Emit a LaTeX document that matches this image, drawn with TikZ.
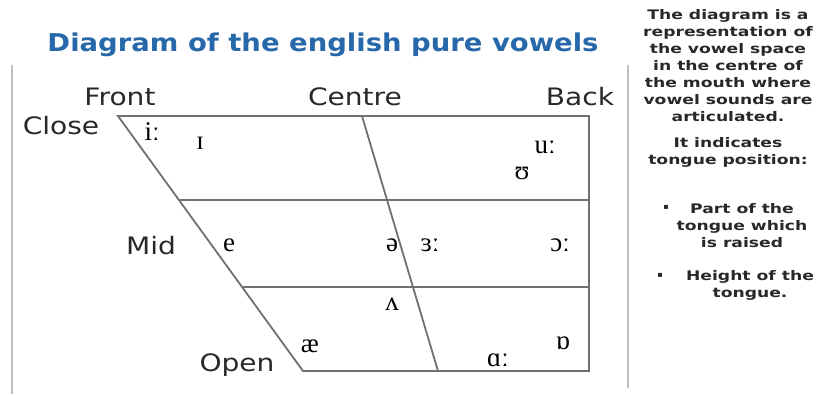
\documentclass[tikz,border=0pt]{standalone}
\usepackage{fontspec}
\setmainfont{DejaVu Sans}
\newfontfamily\ipa{Liberation Serif}
\newfontfamily\wide[FakeStretch=1.12]{DejaVu Sans}
\newfontfamily\lblfont[FakeStretch=1.17]{DejaVu Sans}
\newfontfamily\notefont[FakeStretch=1.3]{DejaVu Sans}
\usetikzlibrary{positioning}
\definecolor{ttl}{RGB}{38,104,170}
\definecolor{ln}{RGB}{112,112,112}
\definecolor{sep}{RGB}{190,190,190}
\definecolor{txt}{RGB}{40,40,40}

\begin{document}
\begin{tikzpicture}[x=1pt,y=-1pt,
 lbl/.style={font=\lblfont\fontsize{24}{24}\selectfont,text=txt,inner sep=0pt},
 v/.style={font=\ipa\fontsize{27}{27}\selectfont,inner sep=0pt},
 note/.style={align=center,text=txt,font=\notefont\bfseries\fontsize{13.2}{17}\selectfont,inner sep=0pt},
 bul/.style={text=txt,font=\fontsize{8}{8}\selectfont,inner sep=0pt}]
\useasboundingbox (0,0) rectangle (827,394);
% title and separators
\node[font=\wide\bfseries\fontsize{24.5}{24.5}\selectfont,text=ttl] (title) at (323,45) {Diagram of the english pure vowels};
\draw[sep,line width=2pt] (12,65) -- (12,394);
\draw[sep,line width=2pt] (628,65) -- (628,388);
% vowel space corners
\coordinate (tl) at (118,116);
\coordinate (tr) at (589,116);
\coordinate (br) at (589,371);
\coordinate (bl) at (303,371);
\coordinate (tc) at (362,116);
\coordinate (bc) at (438,371);
\coordinate (ml) at (180,200);
\coordinate (mr) at (589,200);
\coordinate (ol) at (243,287);
\coordinate (or) at (589,287);
\draw[ln,line width=1.8pt] (tl) -- (tr) -- (br) -- (bl) -- cycle;
\draw[ln,line width=1.8pt] (ml) -- (mr);
\draw[ln,line width=1.8pt] (ol) -- (or);
\draw[ln,line width=1.8pt] (tc) -- (bc);
% axis labels
\node[lbl] (front) at (120,97) {Front};
\node[lbl] (centre) at (355,97) {Centre};
\node[lbl] (back) at (580,97) {Back};
\node[lbl] (close) at (61,126) {Close};
\node[lbl] (mid) at (151,246) {Mid};
\node[lbl] (open) at (237,365) {Open};
% vowels
\node[v] (ii) at (152,132) {iː};
\node[v] (ih) at (200,143) {ɪ};
\node[v] (e) at (229,245) {e};
\node[v] (ae) at (310,346) {æ};
\node[v] (uu) at (545,147) {uː};
\node[v] (uh) at (522,173) {ʊ};
\node[v] (schwa) at (392,245) {ə};
\node[v] (er) at (430,245) {ɜː};
\node[v] (aw) at (560,245) {ɔː};
\node[v] (uhh) at (392,304) {ʌ};
\node[v] (aa) at (498,360) {ɑː};
\node[v] (o) at (563,343) {ɒ};
% notes
\node[note] (n1) at (728,66) {The diagram is a\\representation of\\the vowel space\\in the centre of\\the mouth where\\vowel sounds are\\articulated.};
\node[note] (n2) at (728,152) {It indicates\\tongue position:};
\node[note] (n3) at (742,226) {Part of the\\tongue which\\is raised};
\node[note] (n4) at (750,285) {Height of the\\tongue.};
\node[bul] (b1) at (666,207) {▪};
\node[bul] (b2) at (660,275) {▪};
\end{tikzpicture}
\end{document}
